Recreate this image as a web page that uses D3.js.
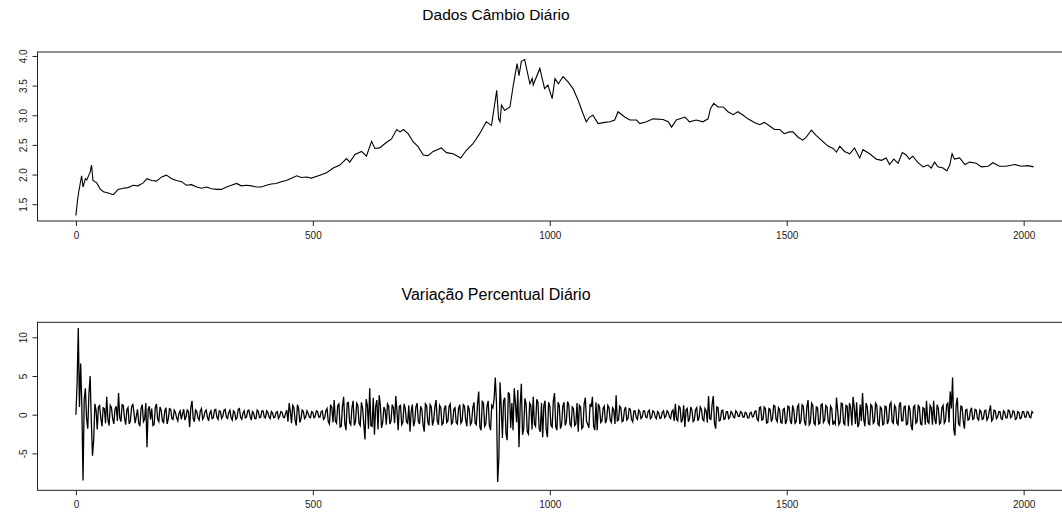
<!DOCTYPE html>
<html>
<head>
<meta charset="utf-8">
<script src="https://cdn.jsdelivr.net/npm/d3@7"></script>
<style>
  html, body { margin: 0; padding: 0; background: #fff; }
  svg { display: block; font-family: "Liberation Sans", Arial, Helvetica, sans-serif; }
</style>
</head>
<body>
<svg id="chart" width="1062" height="514"></svg>
<script>
// ---------- DATA ----------
const titleTop = "Dados Câmbio Diário";
const titleBottom = "Variação Percentual Diário";
const xTicks = [0, 500, 1000, 1500, 2000];
const yTicksTop = [1.5, 2.0, 2.5, 3.0, 3.5, 4.0];
const yTicksBottom = [-5, 0, 5, 10];

// Exchange rate (day index, value)
const rateDays = [0,3,6,12,15,20,23,30,33,36,44,51,58,68,79,89,100,110,121,131,142,150,160,170,181,191,202,212,223,233,244,255,265,276,286,297,307,318,328,339,349,360,370,381,391,402,412,423,433,444,455,466,476,487,497,515,529,543,557,571,578,589,603,613,624,631,641,655,666,677,684,691,701,712,722,733,743,754,771,782,796,812,824,838,852,866,877,888,892,895,898,905,916,923,931,935,940,947,958,963,965,979,989,996,1005,1011,1018,1028,1039,1049,1060,1070,1077,1084,1091,1102,1116,1127,1137,1144,1158,1169,1183,1190,1204,1218,1239,1250,1257,1267,1285,1295,1309,1323,1334,1339,1346,1355,1366,1376,1387,1397,1408,1418,1432,1443,1453,1464,1474,1485,1495,1506,1513,1524,1534,1541,1552,1562,1573,1587,1598,1605,1612,1622,1633,1643,1654,1661,1675,1689,1700,1710,1717,1726,1735,1744,1752,1759,1766,1777,1788,1798,1805,1812,1819,1830,1838,1844,1849,1854,1865,1876,1886,1900,1911,1925,1935,1949,1963,1981,1995,2009,2021];
const rateValues = [1.31,1.54,1.71,1.98,1.79,1.93,1.91,2.04,2.16,1.90,1.86,1.76,1.71,1.69,1.66,1.75,1.77,1.78,1.82,1.81,1.86,1.93,1.90,1.89,1.96,1.99,1.93,1.90,1.88,1.82,1.83,1.79,1.77,1.79,1.76,1.75,1.75,1.79,1.82,1.85,1.81,1.82,1.81,1.79,1.79,1.82,1.84,1.85,1.88,1.90,1.94,1.98,1.95,1.96,1.94,1.99,2.03,2.11,2.16,2.27,2.21,2.34,2.39,2.31,2.56,2.44,2.45,2.54,2.60,2.76,2.72,2.76,2.69,2.55,2.47,2.33,2.32,2.39,2.45,2.37,2.35,2.28,2.41,2.52,2.69,2.89,2.83,3.42,2.94,2.89,3.17,3.08,3.14,3.51,3.87,3.67,3.91,3.94,3.53,3.62,3.51,3.79,3.45,3.51,3.28,3.62,3.53,3.65,3.56,3.45,3.25,3.03,2.89,2.97,3.00,2.86,2.88,2.89,2.92,3.06,2.97,2.92,2.92,2.86,2.89,2.94,2.93,2.89,2.80,2.92,2.97,2.89,2.92,2.89,2.94,3.11,3.20,3.14,3.14,3.06,3.01,3.06,3.00,2.94,2.88,2.84,2.88,2.82,2.76,2.76,2.69,2.72,2.72,2.63,2.58,2.63,2.75,2.66,2.58,2.48,2.44,2.38,2.48,2.39,2.35,2.45,2.28,2.42,2.35,2.26,2.24,2.28,2.17,2.26,2.19,2.37,2.33,2.26,2.31,2.20,2.13,2.16,2.11,2.21,2.13,2.11,2.06,2.16,2.35,2.26,2.28,2.17,2.21,2.19,2.13,2.14,2.20,2.14,2.14,2.17,2.14,2.15,2.13];

// Daily percent change: one reading every 5 days starting at day 0 ...
const pctStep = 5;
const pctValues = [
  0.0,11.2,6.6,-8.5,3.4,-1.8,5.0,-5.3,1.4,-1.9,1.2,-1.5,0.8,2.3,-1.4,0.9,-1.2,1.1,2.8,-0.9,
  1.2,-1.3,0.9,-0.8,1.4,-1.1,0.7,-1.5,1.3,-0.6,-4.2,1.1,0.8,-1.3,1.4,-0.9,0.6,-1.0,0.9,-0.5,
  0.7,-0.6,0.3,-0.8,0.5,0.1,-0.7,0.6,-1.6,1.8,-0.9,0.4,-0.7,0.8,-0.3,0.6,-0.8,0.5,-0.4,0.7,
  -0.6,0.4,-0.2,0.7,-0.5,0.6,-0.7,0.3,-0.4,0.8,-0.6,0.5,-0.3,0.6,-0.7,0.2,-0.5,0.4,-0.3,0.5,
  -0.4,0.3,-0.5,0.2,-0.3,0.4,-0.2,0.3,-0.4,0.6,1.5,-1.1,0.9,-1.4,0.8,-0.5,0.4,-0.3,0.2,-0.4,
  0.3,-0.2,0.4,-0.3,0.5,-0.4,0.8,-1.2,0.9,1.9,-1.1,1.4,-1.5,2.3,-2.0,1.6,-1.3,1.8,-0.9,1.2,
  -1.4,0.8,-3.2,1.2,3.4,-1.5,-2.6,1.9,2.5,-1.7,1.0,-1.3,1.1,-0.8,0.9,2.4,-2.0,1.2,-1.0,0.8,
  -1.1,-2.2,1.3,-0.9,1.5,-1.2,0.7,-2.2,1.2,-1.4,1.0,-0.7,1.9,-1.3,0.9,-1.1,1.2,-0.8,1.4,-1.0,
  0.9,-1.2,1.3,-0.8,1.1,-1.5,0.7,-1.0,1.6,-1.3,3.0,-2.0,1.5,-1.2,1.8,-2.0,0.9,4.8,-8.7,4.2,
  -3.0,2.2,-3.3,2.6,1.5,3.4,-1.0,-4.2,4.0,-1.8,1.4,-2.5,1.2,2.3,-1.5,1.6,-2.2,-2.9,1.8,-2.9,
  1.1,-1.6,2.8,-2.0,1.2,-1.3,1.6,-0.9,1.3,-1.5,0.8,-1.2,-2.2,1.0,-1.6,2.2,-1.2,1.4,2.3,-2.0,
  -2.0,1.0,-0.8,1.1,-0.6,0.9,-1.0,0.6,2.5,-0.7,0.9,-0.8,1.0,-0.5,0.7,-0.9,0.5,-0.6,0.4,-0.3,
  0.5,-0.4,0.6,-0.3,0.4,-0.5,0.2,-0.4,0.5,-0.2,0.3,-0.5,0.6,1.4,-0.8,0.9,-0.6,-1.6,0.8,-0.5,
  0.6,-0.7,0.9,-0.4,0.7,-0.8,0.5,2.4,-0.6,2.4,-1.8,0.9,-0.7,0.6,-0.5,0.4,-0.3,0.2,-0.4,0.3,
  -0.2,0.3,-0.3,0.2,-0.4,0.3,-0.2,0.5,-0.8,1.0,-0.6,0.8,-1.0,0.7,-0.5,1.1,-0.9,0.6,-1.1,0.8,
  -0.7,1.0,-1.2,0.6,-0.9,1.3,-0.8,1.1,-1.4,1.9,-1.0,1.2,-1.3,0.9,-1.1,1.4,-0.7,1.0,-1.2,0.8,
  -0.9,2.2,-1.3,1.5,-1.1,1.2,-1.5,0.9,2.3,-1.2,-1.6,1.3,2.8,-1.5,1.0,-1.3,1.1,-0.9,1.2,-1.4,
  0.8,-1.2,1.0,-0.7,1.6,-1.1,0.9,-1.3,1.6,-0.8,1.1,-1.2,0.7,-2.0,1.2,-0.9,1.0,-1.3,0.8,1.8,
  -1.1,0.9,1.8,-1.2,0.8,-1.0,1.2,-0.8,1.5,3.0,4.8,-2.7,2.2,-1.4,1.0,-1.8,0.7,-0.6,0.9,-0.5,
  0.6,-0.7,0.4,-0.5,0.6,-0.4,1.2,-0.6,0.5,-0.3,0.4,-0.6,0.3,-0.4,0.5,-0.2,0.4,-0.5,0.3,-0.4,
  0.4,-0.3,0.3,-0.4,0.2
];
// ... and one reading half-way between each pair of the readings above
const pctMidValues = [
  4.0,1.0,1.2,2.0,-0.5,2.7,-0.8,-3.3,0.6,1.0,-0.4,0.9,-1.1,-0.6,1.2,-0.5,0.7,-0.8,-0.4,1.3,
  -0.4,0.6,-1.2,1.0,0.3,-0.2,-1.1,0.8,-0.9,1.5,0.7,-0.6,-1.4,0.9,-0.6,1.0,-0.8,0.5,-1.2,0.8,
  -0.5,0.6,-0.4,0.2,-0.6,0.7,-0.2,0.4,0.9,-0.5,0.6,-0.4,0.5,-0.6,0.4,-0.3,0.2,-0.5,0.6,-0.3,
  0.5,-0.5,0.6,-0.3,0.3,-0.4,0.5,-0.6,0.7,-0.3,0.2,-0.4,0.5,-0.2,0.4,-0.5,0.6,-0.4,0.5,-0.3,
  0.5,-0.3,0.4,-0.4,0.3,-0.5,0.4,-0.3,0.2,-0.9,0.4,1.2,-0.7,1.3,-1.0,0.6,-0.5,0.5,-0.3,0.4,
  -0.4,0.5,-0.3,0.4,-0.6,0.5,-0.9,1.3,-1.0,-0.8,1.2,-1.6,1.1,-1.2,1.5,-1.0,0.9,-1.4,1.5,-1.1,
  1.6,-1.2,2.0,-1.8,-1.4,2.2,1.0,-1.9,1.2,-1.0,0.6,1.4,-1.2,1.3,-1.1,0.5,1.1,-1.3,1.4,-0.9,
  1.2,0.4,-1.5,1.0,-0.8,1.1,-1.3,1.4,-0.9,1.3,-1.4,1.0,-0.8,1.2,-1.3,0.8,-1.0,1.1,-1.2,0.7,
  -1.0,0.8,-1.1,1.3,-0.7,1.2,-1.3,0.9,-1.1,1.4,-1.6,1.7,-1.5,1.1,-1.4,1.2,2.0,1.5,-5.6,1.0,
  1.8,-2.4,2.9,-1.7,-2.0,1.5,3.2,1.2,-2.6,2.1,-2.2,1.5,-1.9,-1.2,2.0,-1.8,1.5,1.2,-2.0,1.6,
  -1.4,1.8,-1.5,1.6,-1.8,1.1,-1.4,1.7,-1.2,1.0,-1.4,1.5,1.2,-1.8,1.4,-0.9,-1.7,1.0,-1.5,1.6,
  1.4,-1.0,0.8,-1.1,1.2,-0.7,0.9,-1.2,-0.8,1.1,-0.9,0.6,-0.7,0.8,-0.6,0.5,-0.4,0.6,-0.5,0.5,
  -0.3,0.4,-0.5,0.5,-0.3,0.4,-0.5,0.3,-0.4,0.5,-0.3,0.4,-0.8,-0.6,1.1,-1.0,1.2,0.6,-0.9,1.0,
  -0.9,0.6,-0.8,1.0,-0.6,0.8,-1.0,-0.5,1.3,-1.1,1.0,-0.8,0.5,-0.6,0.4,-0.5,0.4,-0.3,0.5,-0.2,
  0.4,-0.3,0.3,-0.4,0.2,-0.3,0.4,-0.6,0.9,-0.7,1.0,-1.1,0.8,-0.9,1.2,-0.6,0.9,-1.0,0.7,-1.2,
  1.1,-0.8,1.2,-1.1,1.0,-1.2,1.3,-0.9,1.0,-1.3,1.5,-1.1,1.0,-1.2,1.3,-1.0,1.2,-0.9,1.1,-1.3,
  -1.2,0.6,-1.0,1.4,-1.3,1.1,1.5,-1.4,0.9,1.6,-1.2,-0.8,-0.6,1.5,-1.2,1.3,-1.1,1.5,-1.2,1.0,
  -1.3,1.1,-1.2,1.3,-0.9,1.2,-1.1,1.2,-0.8,1.0,-1.3,1.2,-1.4,1.0,-1.1,1.2,-1.2,0.9,-1.3,-0.9,
  1.2,-1.3,-0.6,1.3,-1.2,0.9,-1.1,1.3,-1.0,0.8,-1.9,1.2,-1.2,1.1,-0.8,0.6,-0.7,0.5,-0.6,0.7,
  -0.5,0.6,-0.6,0.5,-0.7,0.5,-0.8,0.6,-0.5,0.4,-0.5,0.5,-0.4,0.6,-0.4,0.5,-0.6,0.4,-0.5,0.4,
  -0.3,0.4,-0.3,0.4
];

// ---------- DRAWING ----------
const svg = d3.select("#chart");
const boxColor = "#222";
const fontAxis = 10;

const x = d3.scaleLinear().domain([-80, 2102]).range([38, 1072]);

function panel(opts) {
  const { top, bottom, yDomain, yTicks, title, titleY, titleSize, series, fmt, lineWidth } = opts;
  const y = d3.scaleLinear().domain(yDomain).range([bottom, top]);
  const g = svg.append("g");

  const line = d3.line().x(d => x(d[0])).y(d => y(d[1]));
  g.append("path")
    .datum(series)
    .attr("d", line)
    .attr("fill", "none")
    .attr("stroke", "#000")
    .attr("stroke-width", lineWidth)
    .attr("stroke-linejoin", "miter");

  g.append("rect")
    .attr("x", x.range()[0] - 0.5)
    .attr("y", top)
    .attr("width", x.range()[1] - x.range()[0])
    .attr("height", bottom - top)
    .attr("fill", "none")
    .attr("stroke", boxColor)
    .attr("stroke-width", 1);

  const xa = g.append("g")
    .attr("transform", `translate(0,${bottom})`)
    .call(d3.axisBottom(x).tickValues(xTicks).tickSize(5).tickPadding(6).tickFormat(d => String(d)));
  xa.select(".domain").remove();
  xa.selectAll("line").attr("stroke", boxColor);
  xa.selectAll("text")
    .attr("fill", "#222")
    .attr("font-size", fontAxis)
    .attr("font-family", "Liberation Sans, Arial, sans-serif");

  const ya = g.append("g")
    .attr("transform", `translate(${x.range()[0] - 0.5},0)`)
    .call(d3.axisLeft(y).tickValues(yTicks).tickSize(5).tickFormat(fmt));
  ya.select(".domain").remove();
  ya.selectAll("line").attr("stroke", boxColor);
  ya.selectAll("text")
    .attr("transform", "rotate(-90)")
    .attr("x", 0)
    .attr("y", -10.5)
    .attr("dy", 0)
    .attr("text-anchor", "middle")
    .attr("fill", "#222")
    .attr("font-size", fontAxis)
    .attr("font-family", "Liberation Sans, Arial, sans-serif");

  svg.append("text")
    .attr("x", 496)
    .attr("y", titleY)
    .attr("text-anchor", "middle")
    .attr("font-size", titleSize)
    .attr("fill", "#000")
    .text(title);
}

const rateSeries = rateDays.map((d, i) => [d, rateValues[i]]);
const pctSeries = [];
pctValues.forEach((v, k) => {
  pctSeries.push([k * pctStep, v]);
  if (k < pctMidValues.length) pctSeries.push([k * pctStep + pctStep / 2, pctMidValues[k]]);
});

panel({
  top: 52, bottom: 221,
  yDomain: [1.217, 4.067],
  yTicks: yTicksTop,
  title: titleTop, titleY: 20, titleSize: 15.5,
  series: rateSeries,
  fmt: d3.format(".1f"),
  lineWidth: 1.1
});

panel({
  top: 322.3, bottom: 490.3,
  yDomain: [-9.77, 11.94],
  yTicks: yTicksBottom,
  title: titleBottom, titleY: 299.5, titleSize: 16,
  series: pctSeries,
  fmt: d => String(d),
  lineWidth: 1.3
});
</script>
</body>
</html>
